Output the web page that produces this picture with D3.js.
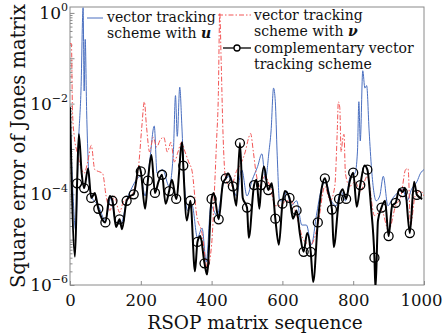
<!DOCTYPE html>
<html>
<head>
<meta charset="utf-8">
<script src="https://cdn.jsdelivr.net/npm/d3@7"></script>
<style>
  body { margin: 0; background: #fff; }
  svg text { font-family: "DejaVu Serif", serif; fill: #111; }
</style>
</head>
<body>
<svg id="chart" width="444" height="335"></svg>
<script>
// tick values
const xTicks = [0, 200, 400, 600, 800, 1000];
const yDecades = [1e-6, 1e-5, 1e-4, 1e-3, 1e-2, 1e-1, 1];
const yLabelTicks = [1e-6, 1e-4, 1e-2, 1];
const yLabelExps = ["\u22126", "\u22124", "\u22122", "0"];

// vector tracking scheme with u  [sequence index, square error]
const trackU = [
  [0, 0.0049], [8, 0.000118], [16, 0.000016], [24, 0.0014], [31, 0.019], [37, 1.3],
  [40, 0.019], [43, 0.26], [47, 0.007], [52, 0.00041], [60, 0.000092], [80, 0.000056],
  [100, 0.0000265], [115, 0.000083], [130, 0.000024], [145, 0.000024], [160, 0.000072],
  [175, 0.00014], [200, 0.00025], [212, 0.000092], [225, 0.00052], [238, 0.0032],
  [246, 0.00029], [262, 0.00035], [280, 0.00015], [292, 0.00086], [298, 0.015],
  [303, 0.0019], [310, 0.023], [316, 0.0032], [322, 0.00025], [332, 0.000044],
  [345, 0.000056], [360, 0.000011], [373, 0.000018], [385, 0.0000032], [398, 0.000056],
  [415, 0.000034], [435, 0.00019], [452, 0.00025], [470, 0.000092], [485, 0.00035],
  [500, 0.000092], [515, 0.00021], [530, 0.00041], [542, 0.00078], [552, 0.00021],
  [562, 0.00086], [568, 0.0025], [575, 0.022], [580, 0.011], [585, 0.00086],
  [592, 0.000072], [602, 0.000072], [612, 0.000118], [625, 0.000056], [640, 0.000072],
  [655, 0.000021], [668, 0.000021], [682, 0.0000077], [696, 0.000034], [710, 0.00013],
  [722, 0.00019], [738, 0.000072], [752, 0.000056], [765, 0.000118], [778, 0.000072],
  [792, 0.00025], [805, 0.00029], [812, 0.00086], [816, 0.011], [820, 0.0015],
  [827, 0.053], [833, 0.022], [838, 0.025], [845, 0.0025], [852, 0.00035],
  [865, 0.000072], [875, 0.000092], [885, 0.00025], [898, 0.000056], [910, 0.000079],
  [925, 0.000107], [940, 0.00013], [952, 0.000072], [965, 0.00013], [980, 0.00019],
  [990, 0.00029], [1000, 0.00035]
];

// vector tracking scheme with v
const trackV = [
  [0, 0.21], [4, 0.21], [7, 0.007], [12, 0.0019], [20, 0.00086], [30, 0.00041],
  [40, 0.00029], [50, 0.00052], [60, 0.0012], [70, 0.00035], [80, 0.00032],
  [92, 0.00029], [102, 0.000092], [113, 0.000044], [125, 0.000092], [140, 0.00004],
  [152, 0.000072], [165, 0.000079], [180, 0.000118], [195, 0.00052], [203, 0.0032],
  [210, 0.011], [216, 0.0032], [225, 0.00086], [235, 0.0018], [245, 0.0011],
  [255, 0.0016], [265, 0.0018], [275, 0.00086], [285, 0.0014], [295, 0.00052],
  [305, 0.00086], [315, 0.0014], [325, 0.00086], [335, 0.00052], [345, 0.00032],
  [358, 0.000034], [372, 0.000015], [388, 0.0000024], [400, 0.0000077], [408, 0.000118],
  [414, 0.0015], [419, 0.015], [423, 1.0], [427, 0.088], [432, 0.0025], [440, 0.00021],
  [455, 0.00015], [470, 0.00032], [485, 0.00052], [495, 0.00086], [505, 0.0018],
  [510, 0.0022], [518, 0.00086], [525, 0.00032], [535, 0.00015], [550, 0.00025],
  [565, 0.00015], [580, 0.000056], [595, 0.000056], [610, 0.000072], [625, 0.000072],
  [640, 0.000034], [660, 0.0000098], [680, 0.0000077], [700, 0.000021], [720, 0.00015],
  [735, 0.000072], [748, 0.00015], [755, 0.0025], [758, 0.011], [762, 0.0083],
  [766, 0.00086], [770, 0.0016], [774, 0.0021], [778, 0.00029], [790, 0.00015],
  [805, 0.00019], [820, 0.000118], [840, 0.00025], [860, 0.000034], [880, 0.000044],
  [900, 0.000016], [920, 0.000056], [935, 0.000092], [948, 0.00035], [955, 0.00037],
  [962, 0.000021], [975, 0.000092], [990, 0.000118], [1000, 0.000092]
];

// complementary vector tracking scheme (circles every 20 samples)
const complementary = [
  [0, 0.0083], [14, 0.0000042], [20, 0.000175], [25, 0.0021], [33, 0.00029],
  [40, 0.000137], [51, 0.00037], [60, 0.000083], [70, 0.000107], [80, 0.000048],
  [90, 0.000029], [100, 0.000024], [112, 0.000092], [120, 0.000072], [130, 0.000019],
  [140, 0.000028], [147, 0.000017], [160, 0.000072], [170, 0.000092], [180, 0.0001],
  [195, 0.00041], [200, 0.00032], [212, 0.000048], [220, 0.0002], [230, 0.00074],
  [240, 0.000107], [250, 0.00019], [260, 0.00027], [270, 0.000062], [280, 0.000118],
  [288, 0.00021], [300, 0.000079], [317, 0.0014], [320, 0.00043], [330, 0.0000265],
  [340, 0.000072], [353, 0.000002], [360, 0.0000089], [368, 0.000012], [380, 0.000003],
  [387, 0.0000017], [400, 0.000079], [406, 0.000107], [420, 0.000028], [432, 0.000175],
  [440, 0.000225], [446, 0.00029], [460, 0.00015], [470, 0.000056], [480, 0.00135],
  [488, 0.000083], [500, 0.000051], [505, 0.000011], [520, 0.00016], [527, 0.00021],
  [535, 0.000048], [540, 0.00016], [548, 0.00041], [560, 0.000124], [570, 0.000175],
  [580, 0.000029], [590, 0.0000077], [600, 0.000062], [607, 0.000118], [620, 0.000083],
  [630, 0.000029], [640, 0.000044], [650, 0.0000126], [660, 0.0000054], [670, 0.000014],
  [680, 0.0000054], [687, 0.00000116], [700, 0.000024], [712, 0.00015], [720, 0.000225],
  [730, 0.000107], [740, 0.000046], [745, 0.0000069], [760, 0.000079], [770, 0.00013],
  [780, 0.000079], [790, 0.00019], [800, 0.0003], [810, 0.000053], [820, 0.00016],
  [832, 0.00043], [840, 0.00035], [850, 0.000056], [860, 0.000004], [863, 0.0000008],
  [870, 0.0000265], [880, 0.000051], [890, 0.000072], [900, 0.000012], [910, 0.000056],
  [920, 0.000065], [930, 0.00013], [940, 0.000112], [946, 0.00014], [960, 0.000014],
  [972, 0.00019], [980, 0.000097], [995, 0.000079]
];

const W = 444, H = 335;
const margin = { top: 7, right: 20, bottom: 50, left: 70 };
const svg = d3.select("#chart");

const x = d3.scaleLinear().domain([0, 1000]).range([margin.left, W - margin.right]);
const y = d3.scaleLog().domain([1e-6, 1.35]).range([H - margin.bottom, margin.top]);

const axisColor = "#8a8a8a";

svg.append("clipPath").attr("id", "plotClip")
  .append("rect")
  .attr("x", margin.left).attr("y", margin.top)
  .attr("width", W - margin.left - margin.right)
  .attr("height", H - margin.top - margin.bottom);

// minor ticks on the log axis
const minors = [];
yDecades.forEach(d => { for (let k = 2; k <= 9; k++) if (d * k <= 1.35) minors.push(d * k); });

svg.append("g")
  .attr("transform", `translate(${margin.left},0)`)
  .call(d3.axisLeft(y).tickValues(minors).tickSize(-2.5).tickFormat(""))
  .call(g => g.select(".domain").remove())
  .call(g => g.selectAll("line").attr("stroke", axisColor));

svg.append("g")
  .attr("transform", `translate(${margin.left},0)`)
  .call(d3.axisLeft(y).tickValues(yDecades).tickSize(-4.5).tickFormat(""))
  .call(g => g.select(".domain").remove())
  .call(g => g.selectAll("line").attr("stroke", axisColor));

svg.append("g")
  .attr("transform", `translate(0,${H - margin.bottom})`)
  .call(d3.axisBottom(x).tickValues(xTicks).tickSize(-4).tickPadding(9).tickFormat(d3.format("d")))
  .call(g => g.select(".domain").remove())
  .call(g => g.selectAll("line").attr("stroke", axisColor))
  .call(g => g.selectAll("text").attr("font-size", 16.5).attr("font-family", "DejaVu Serif").attr("fill", "#111"))
  .call(g => g.selectAll("text").filter(d => d === 1000).attr("dx", -3));

// y labels 10^k
const yl = svg.append("g");
yLabelTicks.forEach((v, i) => {
  const t = yl.append("text")
    .attr("x", margin.left - 2)
    .attr("y", y(v) + 6)
    .attr("text-anchor", "end")
    .attr("font-size", 17);
  t.append("tspan").text("10");
  t.append("tspan").attr("dy", -8).attr("font-size", 11).text(yLabelExps[i]);
});

// frame
svg.append("rect")
  .attr("x", margin.left).attr("y", margin.top)
  .attr("width", W - margin.left - margin.right)
  .attr("height", H - margin.top - margin.bottom)
  .attr("fill", "none").attr("stroke", axisColor).attr("stroke-width", 1);

const line = d3.line()
  .x(d => x(d[0]))
  .y(d => y(d[1]))
  .curve(d3.curveMonotoneX);

const plot = svg.append("g").attr("clip-path", "url(#plotClip)");

plot.append("path").datum(trackU)
  .attr("d", line).attr("fill", "none")
  .attr("stroke", "#4a6fc0").attr("stroke-width", 1);

plot.append("path").datum(trackV)
  .attr("d", line).attr("fill", "none")
  .attr("stroke", "#f25555").attr("stroke-width", 1)
  .attr("stroke-dasharray", "5,2,1.5,2");

plot.append("path").datum(complementary)
  .attr("d", line).attr("fill", "none")
  .attr("stroke", "#000").attr("stroke-width", 2);

plot.selectAll("circle.mark")
  .data(complementary.filter(d => d[0] > 0 && d[0] % 20 === 0))
  .join("circle")
  .attr("class", "mark")
  .attr("cx", d => x(d[0])).attr("cy", d => y(d[1]))
  .attr("r", 4.5)
  .attr("fill", "none").attr("stroke", "#000").attr("stroke-width", 1.3);

// axis titles
svg.append("text")
  .attr("x", 255).attr("y", 329)
  .attr("text-anchor", "middle").attr("font-size", 18.5)
  .text("RSOP matrix sequence");

svg.append("text")
  .attr("transform", `translate(25,${(margin.top + H - margin.bottom) / 2}) rotate(-90)`)
  .attr("text-anchor", "middle").attr("font-size", 19.5)
  .text("Square error of Jones matrix");

// legends
const lg = svg.append("g").attr("font-size", 14);

lg.append("line").attr("x1", 87).attr("x2", 103).attr("y1", 18).attr("y2", 18)
  .attr("stroke", "#4a6fc0").attr("stroke-width", 1);
lg.append("text").attr("x", 107).attr("y", 22).text("vector tracking");
const lu = lg.append("text").attr("x", 107).attr("y", 38).text("scheme with ");
lu.append("tspan").attr("font-weight", "bold").attr("font-style", "italic").text("u");

lg.append("line").attr("x1", 218).attr("x2", 251).attr("y1", 15).attr("y2", 15)
  .attr("stroke", "#f25555").attr("stroke-width", 1).attr("stroke-dasharray", "5,2,1.5,2");
lg.append("text").attr("x", 254).attr("y", 20).text("vector tracking");
const lv = lg.append("text").attr("x", 254).attr("y", 36).text("scheme with ");
lv.append("tspan").attr("font-weight", "bold").attr("font-style", "italic").text("\u03bd");

lg.append("line").attr("x1", 223).attr("x2", 251).attr("y1", 48).attr("y2", 48)
  .attr("stroke", "#000").attr("stroke-width", 1.3);
lg.append("circle").attr("cx", 237).attr("cy", 48).attr("r", 3)
  .attr("fill", "#fff").attr("stroke", "#000").attr("stroke-width", 1.3);
lg.append("text").attr("x", 254).attr("y", 53).text("complementary vector");
lg.append("text").attr("x", 254).attr("y", 69).text("tracking scheme");
</script>
</body>
</html>
